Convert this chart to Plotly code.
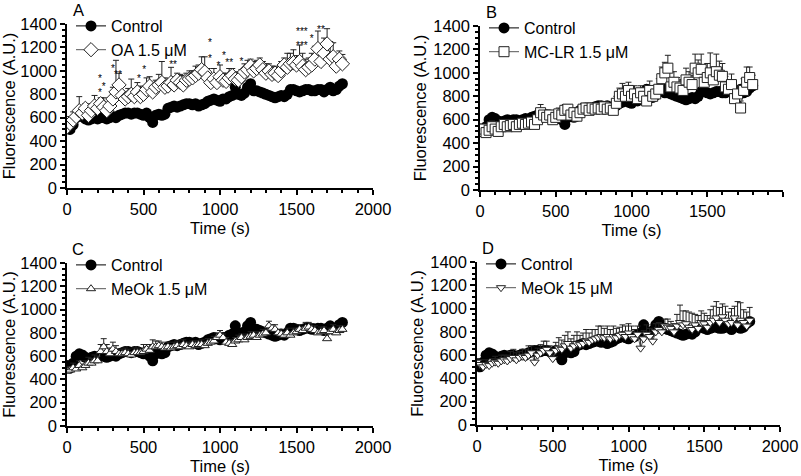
import plotly.graph_objects as go

time_s = [0, 20, 40, 60, 80, 100, 120, 140, 160, 180, 200, 220, 240, 260, 280, 300, 320, 340, 360, 380,
          400, 420, 440, 460, 480, 500, 520, 540, 560, 580, 600, 620, 640, 660, 680, 700, 720, 740, 760, 780,
          800, 820, 840, 860, 880, 900, 920, 940, 960, 980, 1000, 1020, 1040, 1060, 1080, 1100, 1120, 1140, 1160, 1180,
          1200, 1220, 1240, 1260, 1280, 1300, 1320, 1340, 1360, 1380, 1400, 1420, 1440, 1460, 1480, 1500, 1520, 1540, 1560, 1580,
          1600, 1620, 1640, 1660, 1680, 1700, 1720, 1740, 1760, 1780, 1800]

control = [520, 500, 540, 600, 620, 610, 590, 580, 590, 600, 590, 600, 600, 590, 600, 610, 600, 620, 630, 640,
           640, 630, 640, 640, 630, 620, 640, 600, 560, 620, 630, 620, 630, 680, 690, 700, 690, 700, 710, 720,
           720, 710, 720, 700, 710, 720, 740, 750, 760, 750, 740, 760, 760, 780, 790, 860, 800, 790, 810, 860,
           890, 830, 830, 820, 810, 800, 790, 780, 770, 780, 790, 780, 800, 840, 840, 830, 820, 830, 840, 840,
           830, 830, 840, 840, 820, 840, 860, 830, 840, 870, 890]
control_err = [20, 25, 20, 30, 25, 20, 20, 25, 20, 20, 25, 20, 20, 25, 20, 20, 25, 20, 20, 25,
               20, 25, 20, 20, 25, 20, 20, 40, 30, 25, 20, 20, 25, 20, 20, 25, 20, 20, 25, 20,
               20, 25, 20, 30, 25, 20, 20, 25, 20, 20, 25, 20, 20, 25, 20, 40, 25, 20, 20, 25,
               20, 25, 30, 20, 25, 30, 25, 30, 30, 25, 20, 25, 20, 25, 20, 20, 25, 20, 20, 25,
               20, 20, 25, 20, 20, 25, 20, 20, 25, 20, 20]

oa = [520, 550, 580, 610, 660, 640, 680, 620, 660, 700, 680, 720, 690, 660, 700, 760, 820, 880, 790, 760,
      780, 800, 780, 820, 780, 800, 840, 870, 820, 860, 880, 900, 860, 870, 900, 880, 920, 900, 880, 920,
      930, 940, 960, 980, 1010, 990, 940, 900, 930, 900, 950, 920, 910, 940, 960, 930, 920, 950, 990, 1010,
      1040, 1000, 1020, 1050, 1010, 980, 1000, 970, 980, 960, 1000, 1050, 1030, 1060, 1070, 1050, 1080, 1040, 1010, 1030,
      1050, 1100, 1190, 1080, 1150, 1230, 1100, 1120, 1040, 1100, 1060]
oa_err = [30, 60, 70, 50, 120, 60, 40, 50, 60, 90, 60, 50, 80, 60, 70, 100, 270, 100, 80, 60,
          70, 130, 60, 80, 90, 60, 100, 80, 70, 60, 90, 180, 80, 60, 130, 70, 60, 70, 80, 60,
          70, 60, 80, 70, 110, 130, 80, 70, 90, 70, 100, 60, 70, 80, 60, 60, 70, 60, 70, 80,
          60, 80, 70, 60, 70, 80, 60, 70, 60, 70, 80, 60, 120, 90, 110, 80, 140, 110, 90, 80,
          100, 110, 150, 90, 130, 130, 150, 120, 80, 70, 80]

mclr = [500, 520, 490, 510, 540, 520, 500, 540, 560, 540, 550, 560, 540, 560, 570, 560, 570, 580, 560, 600,
        660, 640, 620, 640, 600, 620, 650, 640, 680, 690, 640, 660, 630, 660, 690, 700, 680, 700, 690, 700,
        690, 710, 690, 700, 680, 740, 800, 820, 800, 850, 800, 820, 780, 830, 800, 760, 850, 800, 820, 860,
        950, 1000, 1040, 880, 920, 880, 870, 850, 940, 920, 900, 1040, 1000, 1030, 920, 960, 1000, 940, 1010, 980,
        970, 880, 860, 900, 780, 820, 700, 850, 920, 960, 900]
mclr_err = [30, 40, 30, 40, 50, 30, 40, 30, 40, 30, 40, 30, 40, 30, 40, 30, 40, 30, 40, 50,
            70, 40, 30, 40, 30, 40, 50, 40, 50, 40, 30, 40, 30, 40, 50, 40, 30, 40, 30, 40,
            30, 40, 30, 40, 30, 60, 70, 90, 60, 70, 60, 70, 50, 60, 70, 50, 80, 60, 70, 90,
            100, 90, 110, 80, 90, 80, 70, 90, 100, 90, 80, 120, 110, 130, 100, 120, 170, 110, 150, 120,
            110, 90, 80, 90, 60, 70, 60, 100, 130, 90, 80]

meok15 = [470, 480, 500, 490, 520, 500, 520, 540, 540, 560, 560, 640, 680, 640, 620, 660, 640, 620, 620, 630,
          620, 610, 630, 630, 630, 640, 660, 650, 680, 680, 690, 680, 670, 680, 670, 680, 690, 680, 700, 690,
          680, 700, 690, 700, 700, 690, 710, 720, 730, 760, 780, 760, 720, 710, 700, 730, 740, 760, 740, 760,
          770, 780, 760, 780, 790, 800, 860, 840, 830, 800, 790, 780, 800, 780, 800, 810, 830, 820, 840, 850,
          830, 820, 800, 810, 820, 750, 810, 830, 800, 820, 830]
meok15_err = [30, 30, 40, 30, 40, 30, 40, 50, 40, 50, 40, 60, 70, 60, 50, 60, 50, 40, 40, 40,
              40, 30, 40, 40, 30, 60, 40, 50, 60, 50, 40, 40, 30, 40, 30, 40, 40, 30, 40, 30,
              40, 30, 40, 30, 40, 30, 40, 30, 40, 40, 40, 30, 40, 30, 40, 30, 40, 30, 40, 30,
              40, 30, 40, 30, 40, 30, 40, 30, 40, 30, 40, 30, 40, 30, 40, 30, 40, 30, 50, 40,
              50, 40, 30, 40, 30, 40, 30, 40, 30, 40, 30]

meok150 = [540, 520, 500, 520, 510, 530, 540, 530, 550, 560, 550, 570, 580, 560, 580, 590, 580, 600, 620, 540,
           600, 620, 640, 650, 620, 570, 640, 660, 650, 680, 700, 660, 680, 700, 690, 700, 720, 710, 730, 740,
           750, 760, 750, 760, 740, 760, 750, 770, 780, 760, 790, 760, 740, 780, 660, 740, 780, 760, 720, 800,
           820, 800, 850, 840, 830, 800, 850, 880, 860, 870, 840, 820, 860, 830, 880, 870, 840, 880, 900, 920,
           880, 930, 900, 870, 880, 920, 860, 900, 880, 850, 900]
meok150_err = [30, 40, 30, 40, 30, 40, 50, 40, 50, 40, 50, 60, 70, 60, 50, 60, 70, 80, 60, 50,
               60, 70, 80, 70, 60, 60, 70, 90, 80, 90, 100, 80, 90, 100, 80, 90, 100, 80, 90, 80,
               100, 90, 80, 90, 80, 90, 80, 70, 80, 90, 80, 90, 80, 70, 80, 70, 80, 70, 60, 70,
               60, 70, 60, 70, 60, 70, 100, 150, 120, 110, 130, 140, 90, 110, 100, 90, 100, 110, 120, 140,
               130, 110, 120, 100, 120, 100, 200, 150, 110, 120, 110]

star_t = [216, 216, 240, 300, 333, 470, 505, 693, 935, 935, 990, 1025, 1060, 1140, 1535, 1535, 1600, 1660]
star_v = [925, 810, 860, 1010, 960, 930, 1000, 1050, 1230, 1100, 1040, 1120, 1060, 1070, 1330, 1205, 1265, 1345]
star_txt = ["*", "*", "*", "*", "**", "*", "*", "**", "*", "*", "*", "*", "**", "*", "***", "***", "*", "**"]

panels = [
    ("A", "OA 1.5 μM", oa, oa_err, "diamond", 11),
    ("B", "MC-LR 1.5 μM", mclr, mclr_err, "square", 10),
    ("C", "MeOk 1.5 μM", meok15, meok15_err, "triangle-up", 8),
    ("D", "MeOk 15 μM", meok150, meok150_err, "triangle-down", 8),
]

W, H = 801, 476
# plot rectangles in pixels: (left, right, top, bottom)
rects = [(67, 373, 24, 188), (480, 783, 26, 190), (67, 373, 263, 426), (477, 780, 262, 425)]

FONT = "Liberation Sans, Arial, Helvetica, sans-serif"
FS = 16.5
fig = go.Figure()
layout = dict(
    width=W, height=H, margin=dict(l=0, r=0, t=0, b=0, autoexpand=False),
    paper_bgcolor="white", plot_bgcolor="white",
    font=dict(family=FONT, size=FS, color="black"),
    annotations=[],
)

for i, (letter, name, vals, errs, sym, msize) in enumerate(panels):
    n = i + 1
    xa = "x" if n == 1 else f"x{n}"
    ya = "y" if n == 1 else f"y{n}"
    lg = "legend" if n == 1 else f"legend{n}"
    l, r, t, b = rects[i]
    xd = [l / W, r / W]
    yd = [1 - b / H, 1 - t / H]

    fig.add_trace(go.Scatter(
        x=time_s, y=control, name="Control", mode="lines+markers",
        line=dict(color="black", width=1),
        marker=dict(symbol="circle", size=11, color="black"),
        error_y=dict(type="data", array=control_err, arrayminus=[0] * len(control_err), symmetric=False,
                     color="#333333", thickness=1, width=2),
        xaxis=xa, yaxis=ya, legend=lg))
    fig.add_trace(go.Scatter(
        x=time_s, y=vals, name=name, mode="lines+markers",
        line=dict(color="#555555", width=1),
        marker=dict(symbol=sym, size=msize, color="white", line=dict(width=1, color="#222222")),
        error_y=dict(type="data", array=errs, arrayminus=[0] * len(errs), symmetric=False,
                     color="#222222", thickness=1, width=3),
        xaxis=xa, yaxis=ya, legend=lg))
    if n == 1:
        fig.add_trace(go.Scatter(
            x=star_t, y=star_v, text=star_txt, mode="text", showlegend=False,
            textfont=dict(size=10, color="black"), hoverinfo="skip",
            xaxis=xa, yaxis=ya))

    axis_common = dict(showline=True, linecolor="black", linewidth=1.5, ticks="outside",
                       ticklen=5, tickwidth=1.5, tickcolor="black", showgrid=False, zeroline=False,
                       automargin=False,
                       tickfont=dict(family=FONT, size=FS, color="black"))
    layout["xaxis" if n == 1 else f"xaxis{n}"] = dict(
        domain=xd, anchor=ya, range=[0, 2000], tickvals=[0, 500, 1000, 1500, 2000],
        minor=dict(dtick=100, ticklen=3, tickcolor="black", ticks="outside"),
        title=dict(text="Time (s)", font=dict(family=FONT, size=FS), standoff=6), **axis_common)
    layout["yaxis" if n == 1 else f"yaxis{n}"] = dict(
        domain=yd, anchor=xa, range=[0, 1400], tickvals=[0, 200, 400, 600, 800, 1000, 1200, 1400],
        minor=dict(dtick=50, ticklen=3, tickcolor="black", ticks="outside"),
        title=dict(text="Fluorescence (A.U.)", font=dict(family=FONT, size=FS), standoff=2), **axis_common)
    layout[lg] = dict(x=(l + 4) / W, y=1 - (t - 15) / H, xanchor="left", yanchor="top",
                      bgcolor="rgba(0,0,0,0)", font=dict(family=FONT, size=16),
                      itemwidth=30, tracegroupgap=0)
    layout["annotations"].append(dict(text=letter, x=(l + 11) / W, y=1 - (t - 14) / H,
                                      xref="paper", yref="paper", showarrow=False,
                                      xanchor="center", yanchor="middle",
                                      font=dict(family=FONT, size=FS)))

fig.update_layout(**layout)
fig.write_html("out.html", config={"displayModeBar": False},
               post_script="document.body.style.margin='0';document.body.style.overflow='hidden';")
